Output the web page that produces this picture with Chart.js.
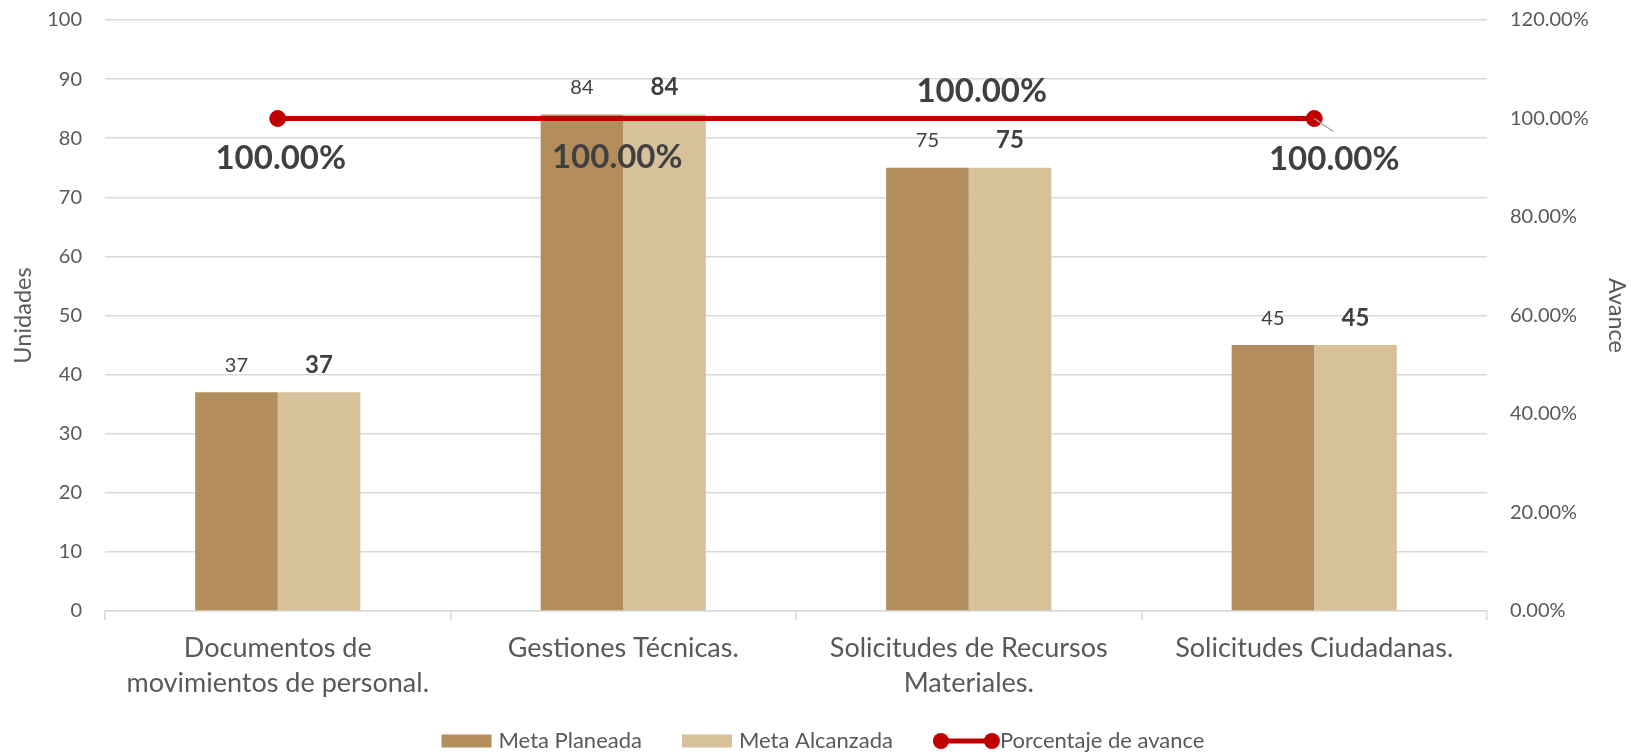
<!DOCTYPE html>
<html><head><meta charset="utf-8">
<script src="https://cdn.jsdelivr.net/npm/chart.js@4.4.0/dist/chart.umd.min.js"></script>
<style>html,body{margin:0;padding:0;background:#fff;}#wrap{width:1631px;height:752px;}</style>
</head><body><div id="wrap"><canvas id="c" width="1631" height="752"></canvas></div>
<script>
// ---- data ----
const categories = [["Documentos de", "movimientos de personal."], "Gestiones Técnicas.", ["Solicitudes de Recursos", "Materiales."], "Solicitudes Ciudadanas."];
const metaPlaneada = [37, 84, 75, 45];
const metaAlcanzada = [37, 84, 75, 45];
const porcentajeAvance = [1.0, 1.0, 1.0, 1.0];
const seriesNames = ["Meta Planeada", "Meta Alcanzada", "Porcentaje de avance"];
const leftAxis = {min: 0, max: 100, step: 10, title: "Unidades"};
const rightAxis = {min: 0, max: 1.2, step: 0.2, title: "Avance"};

// ---- styling ----
const FONT = "Lato, 'Open Sans', sans-serif";
const C_PLAN = '#B38D5C', C_ALC = '#D6C19B', C_LINE = '#C00000';
const C_TICK = '#595959', C_LABEL = '#404040', C_GRID = '#D9D9D9';
const linePointRadius = [8, 0, 0, 8];
// label offsets for the percentage labels (dx, dy from the point)
const pctLabelOffsets = [[3, 40], [-6, 39], [13, -27], [20, 41]];
const pctLeader = [false, false, false, true];

const valueLabels = {
  id: 'valueLabels',
  afterDatasetsDraw(chart) {
    const ctx = chart.ctx;
    ctx.save();
    ctx.textAlign = 'center';
    ctx.textBaseline = 'middle';
    ctx.fillStyle = C_LABEL;
    [0, 1].forEach(di => {
      const meta = chart.getDatasetMeta(di);
      ctx.font = (di === 0 ? 'normal 20px ' : 'bold 24px ') + FONT;
      meta.data.forEach((el, i) => {
        const v = chart.data.datasets[di].data[i];
        ctx.fillText(String(v), el.x, el.y - 27);
      });
    });
    const lm = chart.getDatasetMeta(2);
    ctx.font = 'bold 33px ' + FONT;
    lm.data.forEach((el, i) => {
      const v = chart.data.datasets[2].data[i];
      const [dx, dy] = pctLabelOffsets[i];
      if (pctLeader[i]) {
        ctx.strokeStyle = '#A6A6A6';
        ctx.lineWidth = 1.5;
        ctx.beginPath();
        ctx.moveTo(el.x, el.y);
        ctx.lineTo(el.x + 19, el.y + 13);
        ctx.stroke();
      }
      ctx.fillText((v * 100).toFixed(2) + '%', el.x + dx, el.y + dy);
    });
    ctx.restore();
  }
};

const customLegend = {
  id: 'customLegend',
  afterDraw(chart) {
    const ctx = chart.ctx;
    ctx.save();
    ctx.font = '22px ' + FONT;
    ctx.textBaseline = 'middle';
    const ds = chart.data.datasets;
    const y = chart.height - 11;
    const items = ds.map(d => {
      const markW = d.type === 'line' ? 67 : 50;
      const gap = d.type === 'line' ? 0 : 7;
      return {d, markW, gap, tw: ctx.measureText(d.label).width};
    });
    const between = 40;
    let total = 0;
    items.forEach((it, i) => { total += it.markW + it.gap + it.tw + (i < items.length - 1 ? between : 0); });
    let x = 823 - total / 2;
    items.forEach(it => {
      if (it.d.type === 'line') {
        ctx.strokeStyle = it.d.borderColor; ctx.lineWidth = 5;
        ctx.beginPath(); ctx.moveTo(x + 8, y); ctx.lineTo(x + it.markW - 8, y); ctx.stroke();
        ctx.fillStyle = it.d.borderColor;
        [x + 8, x + it.markW - 8].forEach(cx => { ctx.beginPath(); ctx.arc(cx, y, 8, 0, Math.PI * 2); ctx.fill(); });
      } else {
        ctx.fillStyle = it.d.backgroundColor;
        ctx.fillRect(x, y - 6.5, it.markW, 13);
      }
      ctx.fillStyle = C_TICK;
      ctx.fillText(it.d.label, x + it.markW + it.gap, y);
      x += it.markW + it.gap + it.tw + between;
    });
    ctx.restore();
  }
};

new Chart(document.getElementById('c'), {
  data: {
    labels: categories,
    datasets: [
      {type: 'bar', label: seriesNames[0], data: metaPlaneada, backgroundColor: C_PLAN, yAxisID: 'y', order: 2,
       barPercentage: 1, categoryPercentage: 0.478},
      {type: 'bar', label: seriesNames[1], data: metaAlcanzada, backgroundColor: C_ALC, yAxisID: 'y', order: 2,
       barPercentage: 1, categoryPercentage: 0.478},
      {type: 'line', label: seriesNames[2], data: porcentajeAvance, borderColor: C_LINE, backgroundColor: C_LINE,
       borderWidth: 5, pointRadius: linePointRadius, pointBackgroundColor: C_LINE, pointBorderColor: C_LINE, pointBorderWidth: 1,
       yAxisID: 'y1', order: 0, tension: 0}
    ]
  },
  options: {
    responsive: false,
    devicePixelRatio: 1,
    animation: false,
    layout: {padding: {top: 20, bottom: 36, left: 0, right: 0}},
    plugins: {legend: {display: false}, tooltip: {enabled: false}},
    scales: {
      x: {
        offset: true,
        grid: {display: true, drawOnChartArea: false, drawTicks: true, tickLength: 9, offset: true, color: C_GRID, lineWidth: 1.5},
        border: {display: true, color: C_GRID, width: 1.5},
        ticks: {color: C_TICK, padding: 11, font: {family: FONT, size: 27, lineHeight: 35 / 27}, maxRotation: 0, autoSkip: false},
        afterFit: s => { s.height = 105; }
      },
      y: {
        position: 'left', min: leftAxis.min, max: leftAxis.max,
        grid: {color: C_GRID, lineWidth: 1.5, drawTicks: false},
        border: {display: false},
        ticks: {stepSize: leftAxis.step, color: C_TICK, padding: 23, font: {family: FONT, size: 20}},
        title: {display: true, text: leftAxis.title, color: C_TICK, font: {family: FONT, size: 23.5}, padding: {top: 9, bottom: 0}},
        afterFit: s => { s.width = 105; s.paddingTop = 12; s.paddingBottom = 12; }
      },
      y1: {
        position: 'right', min: rightAxis.min, max: rightAxis.max,
        grid: {display: false, drawTicks: false},
        border: {display: false},
        ticks: {stepSize: rightAxis.step, color: C_TICK, padding: 23, font: {family: FONT, size: 20},
                callback: v => (v * 100).toFixed(2) + '%'},
        title: {display: true, text: rightAxis.title, color: C_TICK, font: {family: FONT, size: 23.5}, padding: {top: 0, bottom: 0}},
        afterFit: s => { s.width = 144; s.paddingTop = 12; s.paddingBottom = 12; }
      }
    }
  },
  plugins: [valueLabels, customLegend]
});
</script></body></html>
